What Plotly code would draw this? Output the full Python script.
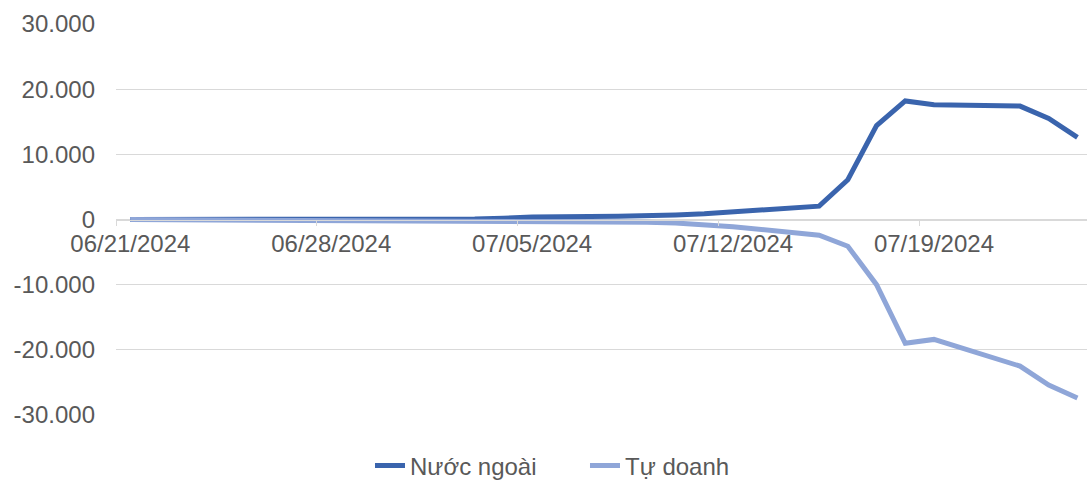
import plotly.graph_objects as go

dates = ["2024-06-21", "2024-06-24", "2024-06-25", "2024-06-26", "2024-06-27", "2024-06-28",
         "2024-07-01", "2024-07-02", "2024-07-03", "2024-07-04", "2024-07-05",
         "2024-07-08", "2024-07-09", "2024-07-10", "2024-07-11", "2024-07-12",
         "2024-07-15", "2024-07-16", "2024-07-17", "2024-07-18", "2024-07-19",
         "2024-07-22", "2024-07-23", "2024-07-24"]

nuoc_ngoai = [0, 0, -30, -60, -40, 0,
              0, 20, 60, 200, 400,
              480, 520, 700, 870, 1130,
              2050, 6100, 14400, 18200, 17600,
              17400, 15500, 12600]

tu_doanh = [0, -50, -80, -100, -120, -130,
            -150, -170, -190, -220, -250,
            -330, -420, -540, -750, -1100,
            -2400, -4100, -10000, -19000, -18400,
            -22500, -25400, -27400]

x_tick_vals = ["2024-06-21", "2024-06-28", "2024-07-05", "2024-07-12", "2024-07-19"]
x_tick_text = ["06/21/2024", "06/28/2024", "07/05/2024", "07/12/2024", "07/19/2024"]
y_tick_vals = [30000, 20000, 10000, 0, -10000, -20000, -30000]
y_tick_text = ["30.000", "20.000", "10.000", "0", "-10.000", "-20.000", "-30.000"]

FONT = "Liberation Sans, Arial, sans-serif"
GREY = "#595959"
GRID = "#D9D9D9"

fig = go.Figure()
fig.add_trace(go.Scatter(x=dates, y=nuoc_ngoai, mode="lines", name="Nước ngoài",
                         line=dict(color="#3A64AD", width=5, shape="linear")))
fig.add_trace(go.Scatter(x=dates, y=tu_doanh, mode="lines", name="Tự doanh",
                         line=dict(color="#8FA6D8", width=5, shape="linear")))

fig.update_layout(
    width=1087, height=481,
    margin=dict(l=116, r=0, t=24, b=66, autoexpand=False),
    paper_bgcolor="white", plot_bgcolor="white",
    font=dict(family=FONT, size=24, color=GREY),
    showlegend=True,
    legend=dict(orientation="h", x=0.483, xanchor="center", y=-0.13, yanchor="middle",
                font=dict(family=FONT, size=24, color=GREY), itemwidth=30,
                entrywidth=170, entrywidthmode="pixels",
                tracegroupgap=0, bgcolor="rgba(0,0,0,0)"),
)
fig.update_xaxes(
    type="date", automargin=False,
    range=["2024-06-20 12:00", "2024-07-24 08:00"],
    tickvals=x_tick_vals, ticktext=x_tick_text,
    ticks="", ticklabelstandoff=3,
    showgrid=False, zeroline=False,
    showline=True, linecolor=GRID, linewidth=1,
    anchor="free", position=0.5,
    tickfont=dict(family=FONT, size=24, color=GREY),
    minor=dict(ticks="outside", ticklen=5, tickcolor=GRID, tickwidth=1,
               tick0="2024-06-20 12:00", dtick=7 * 86400000, showgrid=False),
)
fig.update_yaxes(
    automargin=False,
    range=[-30000, 30000],
    tickvals=y_tick_vals, ticktext=y_tick_text,
    showgrid=True, gridcolor=GRID, gridwidth=1,
    zeroline=True, zerolinecolor=GRID, zerolinewidth=1,
    showline=False, ticks="", ticklabelstandoff=20,
    tickfont=dict(family=FONT, size=24, color=GREY),
)

fig.write_html("out.html", config={"displayModeBar": False},
               post_script="document.body.style.margin='0';document.body.style.overflow='hidden';")
